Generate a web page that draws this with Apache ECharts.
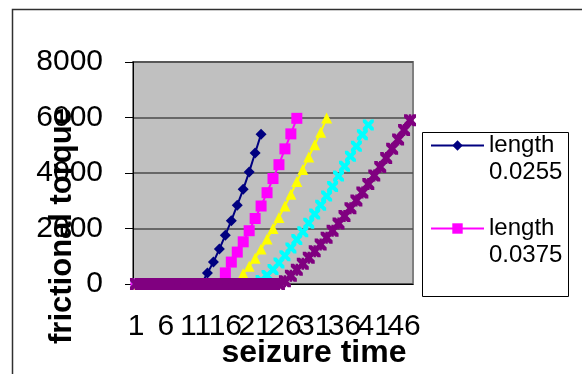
<!DOCTYPE html>
<html>
<head>
<meta charset="utf-8">
<script src="https://cdn.jsdelivr.net/npm/echarts@6/dist/echarts.min.js"></script>
<style>
  html, body { margin: 0; padding: 0; background: #fff; }
  #chart { width: 582px; height: 374px; }
</style>
</head>
<body>
<div id="chart"></div>
<script>
// seizure time categories 1..47
const categories = ['1','2','3','4','5','6','7','8','9','10','11','12','13','14','15','16','17','18','19','20',
  '21','22','23','24','25','26','27','28','29','30','31','32','33','34','35','36','37','38','39','40',
  '41','42','43','44','45','46','47']

const seriesNames = ['length 0.0255', 'length 0.0375', 'length 0.0495', 'length 0.0615', 'length 0.0735']

const len0255 = [0,0,0,0,0,0,0,0,0,0,0,0,
  400,790,1260,1760,2280,2840,3410,4040,4720,5400]
const len0375 = [0,0,0,0,0,0,0,0,0,0,0,0,0,0,0,
  400,790,1150,1520,1920,2360,2810,3290,3800,4300,4870,5410,5970]
const len0495 = [0,0,0,0,0,0,0,0,0,0,0,0,0,0,0,0,0,0,
  370,640,930,1260,1620,2000,2400,2810,3230,3690,4130,4580,5020,5470,5980]
const len0615 = [0,0,0,0,0,0,0,0,0,0,0,0,0,0,0,0,0,0,0,0,0,
  130,310,520,760,1020,1300,1600,1880,2190,2520,2840,3170,3510,3890,4240,4600,4960,5380,5730]
const len0735 = [0,0,0,0,0,0,0,0,0,0,0,0,0,0,0,0,0,0,0,0,0,0,0,0,0,
  100,300,510,730,950,1180,1420,1670,1920,2180,2450,2730,3010,3300,3600,3910,4220,4540,4870,5210,5550,5900]

const yTicks = { min: 0, max: 8000, interval: 2000 }

const Colors = ['#000080', '#FF00FF', '#FFFF00', '#00FFFF', '#800080']
const xMark = 'path://M0,0L2.6,0L5,2.4L7.4,0L10,0L10,2.6L7.6,5L10,7.4L10,10L7.4,10L5,7.6L2.6,10L0,10L0,7.4L2.4,5L0,2.6Z'
const starMark = xMark + 'M4,0L6,0L6,10L4,10Z'
const Symbols = ['diamond', 'rect', 'triangle', xMark, starMark]
const Sizes = [11, 11, 11, 11, 12]
const allData = [len0255, len0375, len0495, len0615, len0735]

const chart = echarts.init(document.getElementById('chart'))

const series = allData.map((list, i) => ({
  name: seriesNames[i],
  type: 'line',
  xAxisIndex: 0,
  data: list,
  symbol: Symbols[i],
  symbolSize: Sizes[i],
  showSymbol: true,
  showAllSymbol: true,
  animation: false,
  itemStyle: { color: Colors[i] },
  lineStyle: { color: Colors[i], width: 2 }
}))

// labels every 5 categories overlap a little, so they are split over two axes
const xLabel = {
  hideOverlap: false,
  fontSize: 30,
  color: '#000',
  margin: 28
}

chart.setOption({
  backgroundColor: '#fff',
  animation: false,
  textStyle: { fontFamily: 'Liberation Sans, Arial, sans-serif' },
  graphic: [
    {
      type: 'rect',
      shape: { x: 12.5, y: 9.5, width: 700, height: 500 },
      style: { fill: 'none', stroke: '#303030', lineWidth: 1.5 },
      silent: true
    },
    {
      type: 'rect',
      shape: { x: 422.5, y: 132.5, width: 146, height: 164 },
      style: { fill: '#fff', stroke: '#000', lineWidth: 1 },
      silent: true
    }
  ],
  legend: {
    data: seriesNames.slice(0, 2),
    orient: 'vertical',
    left: 430,
    top: 105,
    padding: 0,
    itemWidth: 53,
    itemHeight: 13,
    itemGap: 2,
    formatter: name => '\n' + name.replace(' ', '\n'),
    textStyle: {
      fontSize: 24,
      lineHeight: 27,
      color: '#000'
    }
  },
  grid: {
    left: 133,
    right: 169,
    top: 62,
    bottom: 89,
    show: true,
    backgroundColor: '#C0C0C0',
    borderColor: '#808080',
    borderWidth: 2
  },
  xAxis: [
    {
      type: 'category',
      data: categories,
      boundaryGap: true,
      position: 'bottom',
      name: 'seizure time',
      nameLocation: 'middle',
      nameGap: 53,
      nameMoveOverlap: false,
      nameTextStyle: {
        fontSize: 32,
        fontWeight: 'bold',
        color: '#000',
        padding: [0, 0, 0, 82]
      },
      axisLine: { lineStyle: { color: '#000', width: 1 } },
      axisTick: { interval: 0, length: 6, lineStyle: { color: '#000' } },
      axisLabel: Object.assign({ interval: (index) => index % 10 === 0 }, xLabel),
      splitLine: { show: false }
    },
    {
      type: 'category',
      data: categories,
      boundaryGap: true,
      position: 'bottom',
      offset: 0,
      axisLine: { show: false },
      axisTick: { show: false },
      axisLabel: Object.assign({ interval: (index) => index % 10 === 5 }, xLabel),
      splitLine: { show: false }
    }
  ],
  yAxis: {
    type: 'value',
    min: yTicks.min,
    max: yTicks.max,
    interval: yTicks.interval,
    name: 'frictional torque',
    nameLocation: 'middle',
    nameGap: 55,
    nameMoveOverlap: false,
    nameTextStyle: {
      fontSize: 31,
      fontWeight: 'bold',
      color: '#000',
      padding: [0, 106, 0, 0]
    },
    axisLine: { show: true, lineStyle: { color: '#000', width: 1 } },
    axisTick: { show: true, length: 8, lineStyle: { color: '#000' } },
    axisLabel: {
      fontSize: 30,
      color: '#000',
      margin: 30,
      formatter: (v) => String(v)
    },
    splitLine: { lineStyle: { color: '#4a4a4a', width: 1.5 } }
  },
  series: series
})
</script>
</body>
</html>
